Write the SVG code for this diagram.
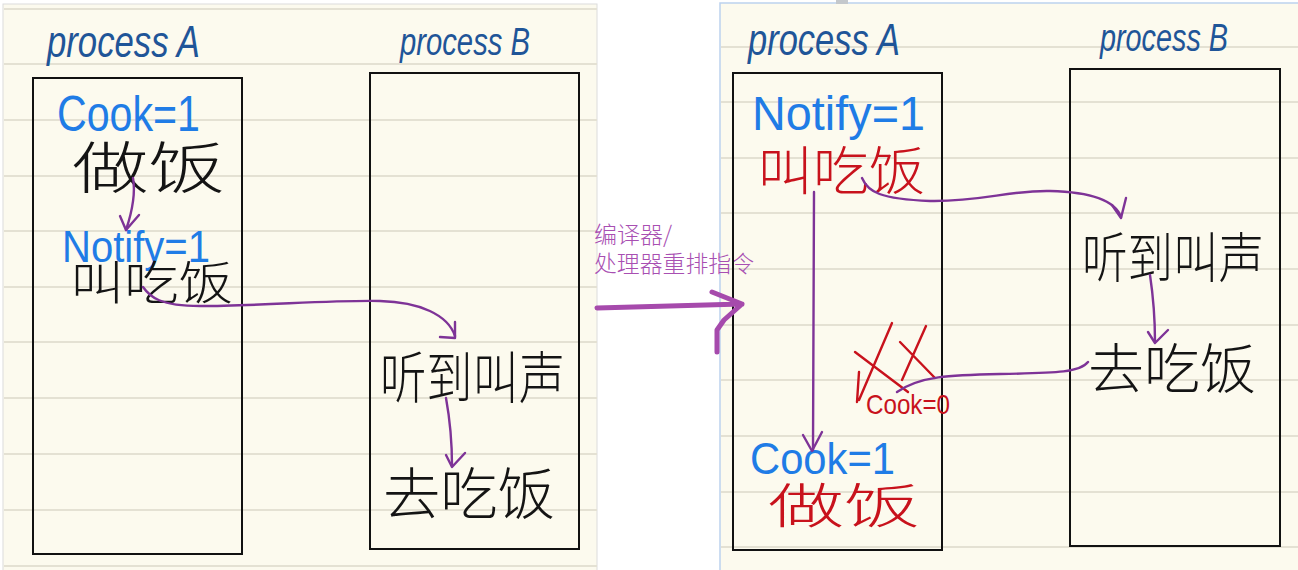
<svg xmlns="http://www.w3.org/2000/svg" width="1298" height="570" viewBox="0 0 1298 570">
<defs>
<style>
.paper{fill:#fcfaee}
.rule{stroke:#e4e1d3;stroke-width:2}
.box{fill:none;stroke:#111;stroke-width:2}
.lat{font-family:"Liberation Sans",Arial,sans-serif}
.cjk{font-family:"Noto Sans CJK SC","Noto Sans",sans-serif;font-weight:300}
.title{fill:#1f5598;font-style:italic}
.blue{fill:#1f7ce6}
.black{fill:#141414}
.red{fill:#c8121c}
.conn{fill:none;stroke:#7e3397;stroke-width:2.4;stroke-linecap:round;stroke-linejoin:round}
.big{fill:none;stroke:#a64aac;stroke-width:5;stroke-linecap:round;stroke-linejoin:round}
.xmark{fill:none;stroke:#c8121c;stroke-width:2.4;stroke-linecap:round}
</style>
</defs>
<rect width="1298" height="570" fill="#ffffff"/>
<!-- left sheet -->
<g id="sheet-left">
<rect x="3" y="4" width="594" height="570" class="paper" stroke="#dcdcdc" stroke-width="1"/>
<g class="rule">
<line x1="4" y1="9" x2="597" y2="9"/><line x1="4" y1="64" x2="597" y2="64"/><line x1="4" y1="120" x2="597" y2="120"/><line x1="4" y1="176" x2="597" y2="176"/><line x1="4" y1="231" x2="597" y2="231"/><line x1="4" y1="287" x2="597" y2="287"/><line x1="4" y1="342" x2="597" y2="342"/><line x1="4" y1="398" x2="597" y2="398"/><line x1="4" y1="454" x2="597" y2="454"/><line x1="4" y1="510" x2="597" y2="510"/><line x1="4" y1="566" x2="597" y2="566"/>
</g>
</g>
<!-- right sheet -->
<g id="sheet-right">
<rect x="720" y="3" width="580" height="570" class="paper" stroke="#bcd2ee" stroke-width="1.5"/>
<rect x="836" y="0" width="12" height="4" fill="#c4c8cc"/>
<g class="rule">
<line x1="721" y1="47" x2="1298" y2="47"/><line x1="721" y1="102" x2="1298" y2="102"/><line x1="721" y1="158" x2="1298" y2="158"/><line x1="721" y1="213" x2="1298" y2="213"/><line x1="721" y1="269" x2="1298" y2="269"/><line x1="721" y1="325" x2="1298" y2="325"/><line x1="721" y1="380" x2="1298" y2="380"/><line x1="721" y1="436" x2="1298" y2="436"/><line x1="721" y1="492" x2="1298" y2="492"/><line x1="721" y1="547" x2="1298" y2="547"/>
</g>
</g>

<!-- LEFT: before reordering -->
<g id="left-processA">
<rect x="33" y="78" width="209" height="476" class="box"/>
<text x="47" y="57" class="lat title" font-size="44" textLength="153" lengthAdjust="spacingAndGlyphs">process A</text>
</g>
<g id="left-processB">
<rect x="370" y="73" width="209" height="476" class="box"/>
<text x="400" y="55" class="lat title" font-size="38" textLength="130" lengthAdjust="spacingAndGlyphs">process B</text>
</g>
<g id="left-cook1"><text x="57" y="131" class="lat blue" font-size="50" textLength="143" lengthAdjust="spacingAndGlyphs">Cook=1</text></g>
<g id="left-zuofan"><text x="72" y="188" class="cjk black" font-size="56" textLength="153" lengthAdjust="spacingAndGlyphs">做饭</text></g>
<g id="left-notify1"><text x="62" y="262" class="lat blue" font-size="44" textLength="148" lengthAdjust="spacingAndGlyphs">Notify=1</text></g>
<g id="left-jiaochifan"><text x="70" y="299" class="cjk black" font-size="46" textLength="163" lengthAdjust="spacingAndGlyphs">叫吃饭</text></g>
<g id="left-tingdao"><text x="380" y="398" class="cjk black" font-size="56" textLength="185" lengthAdjust="spacingAndGlyphs">听到叫声</text></g>
<g id="left-quchifan"><text x="383" y="514" class="cjk black" font-size="56" textLength="172" lengthAdjust="spacingAndGlyphs">去吃饭</text></g>

<!-- middle label -->
<g id="reorder-label">
<text x="594" y="243" class="cjk" font-size="23" fill="#a84fb2" font-weight="400">编译器/</text>
<text x="594" y="272" class="cjk" font-size="23" fill="#a84fb2" font-weight="400" textLength="160" lengthAdjust="spacingAndGlyphs">处理器重排指令</text>
</g>

<!-- RIGHT: after reordering -->
<g id="right-processA">
<rect x="733" y="73" width="209" height="477" class="box"/>
<text x="748" y="55" class="lat title" font-size="44" textLength="152" lengthAdjust="spacingAndGlyphs">process A</text>
</g>
<g id="right-processB">
<rect x="1070" y="69" width="210" height="477" class="box"/>
<text x="1100" y="51" class="lat title" font-size="38" textLength="128" lengthAdjust="spacingAndGlyphs">process B</text>
</g>
<g id="right-notify1"><text x="752" y="130" class="lat blue" font-size="48" textLength="173" lengthAdjust="spacingAndGlyphs">Notify=1</text></g>
<g id="right-jiaochifan"><text x="757" y="190" class="cjk red" font-size="52" textLength="168" lengthAdjust="spacingAndGlyphs">叫吃饭</text></g>
<g id="right-tingdao"><text x="1082" y="278" class="cjk black" font-size="54" textLength="182" lengthAdjust="spacingAndGlyphs">听到叫声</text></g>
<g id="right-quchifan"><text x="1088" y="389" class="cjk black" font-size="54" textLength="168" lengthAdjust="spacingAndGlyphs">去吃饭</text></g>
<g id="right-cook0">
<path class="xmark" d="M855,352 L908,392 M892,323 L859,400 M859,372 L857,402 M926,326 L902,380 M900,342 L935,378"/>
<text x="866" y="414" class="lat red" font-size="28" textLength="84" lengthAdjust="spacingAndGlyphs">Cook=0</text>
</g>
<g id="right-cook1"><text x="750" y="474" class="lat blue" font-size="44" textLength="145" lengthAdjust="spacingAndGlyphs">Cook=1</text></g>
<g id="right-zuofan"><text x="768" y="523" class="cjk red" font-size="48" textLength="152" lengthAdjust="spacingAndGlyphs">做饭</text></g>

<!-- connectors -->
<g id="connectors">
<path class="conn" d="M133,178 C136,195 132,212 126,230"/>
<path class="conn" d="M120,216 L126,230 L139,215"/>
<path class="conn" d="M143,287 C150,297 160,306 200,306 C260,306 330,300 380,301 C420,302 448,315 455,336"/>
<path class="conn" d="M455,322 L455,338 L440,337"/>
<path class="conn" d="M446,398 C450,420 452,445 452,466"/>
<path class="conn" d="M446,455 L452,467 L465,453"/>
<path class="big" d="M597,308 L742,304 M712,292 L742,304 L724,320 L717,330 L717,352"/>
<path class="conn" d="M814,192 L813,450"/>
<path class="conn" d="M803,435 L812,451 L822,432"/>
<path class="conn" d="M862,178 C868,192 880,199 930,201 C980,202 1010,190 1050,191 C1090,192 1115,200 1121,217"/>
<path class="conn" d="M1112,205 L1121,218 L1126,198"/>
<path class="conn" d="M1150,275 C1153,295 1155,320 1155,342"/>
<path class="conn" d="M1148,332 L1155,343 L1168,330"/>
<path class="conn" d="M1088,362 C1080,372 1060,373 1000,374 C950,375 920,376 897,392"/>
</g>
</svg>
